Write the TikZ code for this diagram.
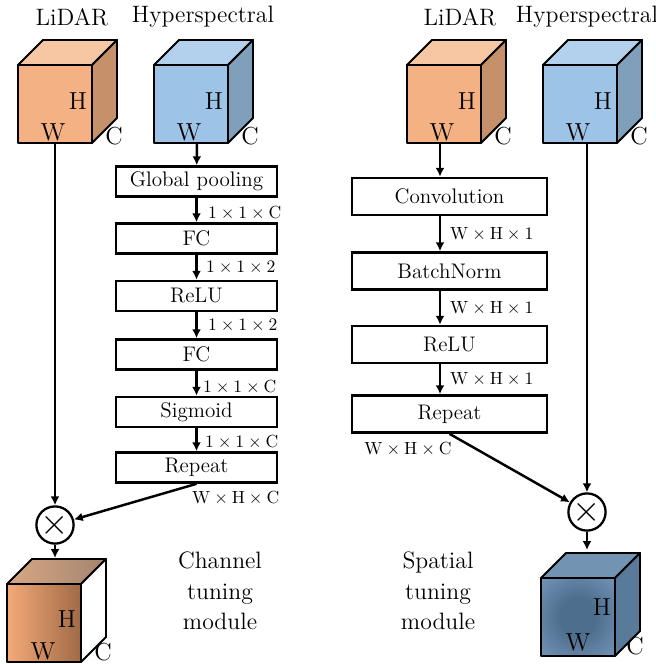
\documentclass[tikz,border=0pt]{standalone}
\usetikzlibrary{arrows.meta}
\definecolor{lidarF}{HTML}{F4B183}
\definecolor{lidarT}{HTML}{F7C6A2}
\definecolor{lidarS}{HTML}{C5906A}
\definecolor{hyperF}{HTML}{9DC3E6}
\definecolor{hyperT}{HTML}{B3D1EC}
\definecolor{hyperS}{HTML}{7F9FBA}
\definecolor{chanA}{HTML}{F4AA78}
\definecolor{chanB}{HTML}{A06A46}
\definecolor{chanTA}{HTML}{D8A883}
\definecolor{chanTB}{HTML}{A38470}
\definecolor{spatIn}{HTML}{4E6E8E}
\definecolor{spatOut}{HTML}{7595B8}
\definecolor{spatT}{HTML}{7393B3}
\definecolor{spatS}{HTML}{5A7A9A}
% front face of the spatial output cube: dark middle, lighter rim
\pgfdeclareradialshading{spatfront}{\pgfpoint{0bp}{0bp}}{%
  color(0bp)=(spatIn); color(12bp)=(spatIn); color(36bp)=(spatOut); color(50bp)=(spatOut)}
\tikzset{
  box/.style={draw,line width=1.5pt,minimum height=.6cm,inner sep=0pt,font=\fontsize{12}{14}\selectfont},
  dim/.style={anchor=west,inner sep=1pt,font=\fontsize{10}{12}\selectfont},
  title/.style={font=\fontsize{13.5}{17.5}\selectfont},
  cubel/.style={inner sep=0pt,font=\fontsize{14}{16}\selectfont},
  mul/.style={draw,circle,line width=1.3pt,minimum size=.64cm,inner sep=0pt},
  flow/.style={line width=1.4pt,-{Latex[length=5pt,width=5pt]}},
  edge/.style={line width=1.1pt,line join=round}
}
\begin{document}
\begin{tikzpicture}[x=.02cm,y=-.02cm]
\useasboundingbox (0,0) rectangle (656,664);
% input cubes
\foreach \x/\f/\t/\s [count=\i] in {18/lidarF/lidarT/lidarS,154/hyperF/hyperT/hyperS,407/lidarF/lidarT/lidarS,543/hyperF/hyperT/hyperS}{
  \begin{scope}[shift={(\x,0)}]
  \filldraw[edge,fill=\f](0,65) rectangle (74,143);
  \filldraw[edge,fill=\t](0,65)--(25,40)--(99,40)--(74,65)--cycle;
  \filldraw[edge,fill=\s](74,65)--(99,40)--(99,118)--(74,143)--cycle;
  \node[cubel] (h\i) at (60,101){H};
  \node[cubel] (w\i) at (35,132){W};
  \node[cubel] (c\i) at (96,136){C};
  \end{scope}
}
\node[title] (lidar1) at (72,17){LiDAR};
\node[title] (hyper1) at (203,17){Hyperspectral};
\node[title] (lidar2) at (460,17){LiDAR};
\node[title] (hyper2) at (587,17){Hyperspectral};

% channel branch
\node[box,minimum width=3.22cm] (gp) at (196.5,181.5){Global pooling};
\node[box,minimum width=3.22cm] (fc1) at (196.5,238.5){FC};
\node[box,minimum width=3.22cm] (relu1) at (196.5,296){ReLU};
\node[box,minimum width=3.22cm] (fc2) at (196.5,354.5){FC};
\node[box,minimum width=3.22cm] (sig) at (196.5,412){Sigmoid};
\node[box,minimum width=3.22cm] (rep1) at (196.5,467.5){Repeat};
\node[dim] (d1) at (206,213){$1\times1\times\mathrm{C}$};
\node[dim] (d2) at (204,268){$1\times1\times2$};
\node[dim] (d3) at (206,326){$1\times1\times2$};
\node[dim] (d4) at (201,387){$1\times1\times\mathrm{C}$};
\node[dim] (d5) at (203,442){$1\times1\times\mathrm{C}$};
\node[dim] (d6) at (190,498){$\mathrm{W}\times\mathrm{H}\times\mathrm{C}$};
\coordinate (in1) at (55,143);
\coordinate (in2) at (197,143);
\draw[flow](in2)--(gp);
\draw[flow](gp)--(fc1);
\draw[flow](fc1)--(relu1);
\draw[flow](relu1)--(fc2);
\draw[flow](fc2)--(sig);
\draw[flow](sig)--(rep1);
\node[mul] (mul1) at (55,525){\fontsize{20}{20}\selectfont$\times$};
\draw[flow](in1)--(mul1);
\draw[flow](rep1.south)--(mul1);
\coordinate (out1) at (55,558);
\draw[flow](mul1)--(out1);

% channel output cube
\shade[left color=chanTA,right color=chanTB](7,584)--(32,559)--(106,559)--(81,584)--cycle;
\draw[edge](7,584)--(32,559)--(106,559)--(81,584)--cycle;
\filldraw[edge,fill=white](81,584)--(106,559)--(106,637)--(81,662)--cycle;
\shade[left color=chanA,right color=chanB](7,584) rectangle (81,662);
\draw[edge](7,584) rectangle (81,662);
\node[cubel] (h5) at (67,619){H};
\node[cubel] (w5) at (43,651){W};
\node[cubel] (c5) at (103,652){C};
\node[title,align=center] (cmod) at (220,591){Channel\\tuning\\module};

% spatial branch
\node[box,minimum width=3.9cm,minimum height=.74cm] (conv) at (449.5,196.5){Convolution};
\node[box,minimum width=3.9cm,minimum height=.74cm] (bn) at (449.5,271){BatchNorm};
\node[box,minimum width=3.9cm,minimum height=.74cm] (relu2) at (449.5,344.5){ReLU};
\node[box,minimum width=3.9cm,minimum height=.74cm] (rep2) at (449.5,414){Repeat};
\node[dim] (d7) at (448,234){$\mathrm{W}\times\mathrm{H}\times1$};
\node[dim] (d8) at (448,308){$\mathrm{W}\times\mathrm{H}\times1$};
\node[dim] (d9) at (448,379){$\mathrm{W}\times\mathrm{H}\times1$};
\node[dim,anchor=center] (d10) at (408,449){$\mathrm{W}\times\mathrm{H}\times\mathrm{C}$};
\coordinate (in3) at (440,143);
\coordinate (in4) at (587,143);
\draw[flow](in3)--(in3|-conv.north);
\draw[flow](in3|-conv.south)--(in3|-bn.north);
\draw[flow](in3|-bn.south)--(in3|-relu2.north);
\draw[flow](in3|-relu2.south)--(in3|-rep2.north);
\node[mul] (mul2) at (587,512){\fontsize{20}{20}\selectfont$\times$};
\draw[flow](in4)--(mul2);
\draw[flow](rep2.south)--(mul2);
\coordinate (out2) at (587,550);
\draw[flow](mul2)--(out2);

% spatial output cube
\filldraw[edge,fill=spatT](541,578)--(566,553)--(640,553)--(615,578)--cycle;
\filldraw[edge,fill=spatS](615,578)--(640,553)--(640,631)--(615,656)--cycle;
\shade[shading=spatfront](541,578) rectangle (615,656);
\draw[edge](541,578) rectangle (615,656);
\node[cubel] (h6) at (602,607){H};
\node[cubel] (w6) at (578,642){W};
\node[cubel] (c6) at (635,646){C};
\node[title,align=center] (smod) at (438,591){Spatial\\tuning\\module};
\end{tikzpicture}
\end{document}
